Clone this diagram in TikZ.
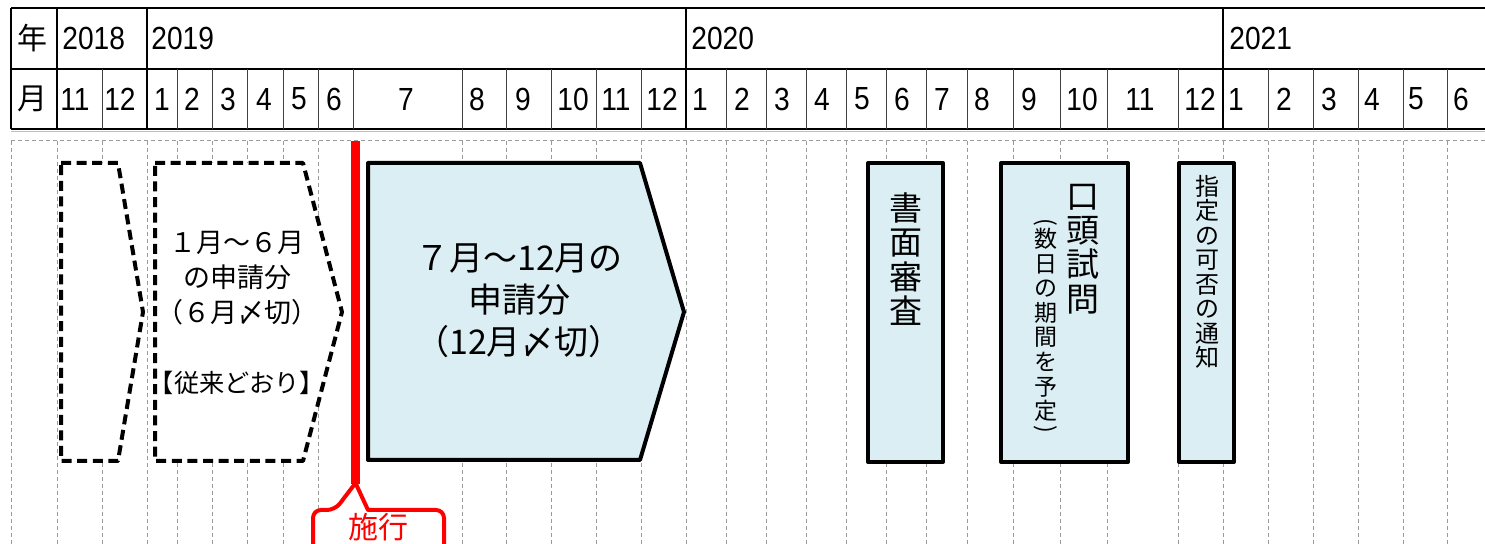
\documentclass[tikz,border=0pt]{standalone}
\usepackage{fontspec}
\setmainfont{Liberation Sans}
\newfontfamily\numfont[FakeStretch=0.88]{Liberation Sans}
\newfontfamily\jp{Noto Sans CJK JP}
\definecolor{lblue}{HTML}{DAEEF3}
\definecolor{gridgray}{HTML}{9A9A9A}
\definecolor{callred}{HTML}{FF0000}
\begin{document}
\begin{tikzpicture}[x=0.5pt,y=-0.5pt,
  tbl/.style={black,line width=0.8pt},
  tblthin/.style={black!75,line width=0.5pt},
  griddash/.style={gridgray,line width=0.5pt,dash pattern=on 2pt off 1.5pt},
  oldbox/.style={draw=black,fill=white,line width=2pt,dash pattern=on 5pt off 2.8pt,line join=round},
  newbox/.style={draw=black,fill=lblue,line width=2pt,line join=round},
  numlbl/.style={inner sep=0pt,font=\numfont\fontsize{16}{18}\selectfont},
  jphdr/.style={inner sep=0pt,font=\jp\fontsize{15}{18}\selectfont},
  stacklbl/.style={inner sep=0pt,align=center},
]
\clip (0,0) rectangle (1485,544);
\fill[white] (0,0) rectangle (1485,544);

% ---------- header table ----------
\draw[tbl] (11,8) -- (1490,8);
\draw[tbl] (11,69) -- (1490,69);
\draw[black,line width=1pt] (11,129) -- (1490,129);
\draw[black!25,line width=0.6pt] (11,131.5) -- (1490,131.5);
\draw[tbl] (11,8) -- (11,129);
\foreach \x in {57,147,686,1223}
  \draw[tbl] (\x,8) -- (\x,129);
\foreach \x in {102,177,212,247,283,318,353,462,506,551,596,641,726,766,806,846,886,926,967,1013,1060,1107,1178,1268,1313,1358,1403,1447}
  \draw[tblthin] (\x,69) -- (\x,129);

\node[jphdr] (nen) at (33,38) {年};
\node[jphdr] (tsuki) at (33,99) {月};
\node[numlbl,anchor=west] (y2018) at (62,38) {2018};
\node[numlbl,anchor=west] (y2019) at (151,38) {2019};
\node[numlbl,anchor=west] (y2020) at (691,38) {2020};
\node[numlbl,anchor=west] (y2021) at (1229,38) {2021};

\foreach \x/\m [count=\i] in {75/11,120/12,162/1,192/2,228/3,264/4,299/5,334/6,406/7,477/8,523/9,573/10,616/11,662/12,700/1,742/2,782/3,822/4,862/5,902/6,942/7,982/8,1029/9,1082/10,1140/11,1200/12,1236/1,1284/2,1329/3,1372/4,1416/5,1461/6}
  \node[numlbl] (m\i) at (\x,99) {\m};

% ---------- dashed month grid ----------
\draw[griddash] (11,141) -- (1490,141);
\foreach \x in {11,57,102,147,177,212,247,283,318,353,462,506,551,596,641,686,726,766,806,846,886,926,967,1013,1060,1107,1178,1223,1268,1313,1358,1403,1447}
  \draw[griddash] (\x,141) -- (\x,544);

% ---------- former applications (dashed) ----------
\draw[oldbox] (61,163) -- (118,163) -- (143,312) -- (118,461) -- (61,461) -- cycle;
\draw[oldbox] (155,163) -- (303,163) -- (342,312) -- (303,461) -- (155,461) -- cycle;
\node[stacklbl,font=\jp\fontsize{13.5}{17.5}\selectfont] (oldtxt) at (237,313)
  {１月～６月\\の申請分\\（６月〆切）\\\mbox{}\\{\fontsize{12.6}{17.5}\selectfont【従来どおり】}};

% ---------- new applications ----------
\draw[newbox] (368,163) -- (640,163) -- (684,312) -- (640,460) -- (368,460) -- cycle;
\node[stacklbl,font=\jp\fontsize{17}{21}\selectfont] (newtxt) at (519,301)
  {７月～12月の\\申請分\\（12月〆切）};

% ---------- later steps ----------
\draw[newbox] (868,163) rectangle (943,462);
\node[stacklbl,font=\jp\fontsize{16.5}{17.2}\selectfont] (shomen) at (906,259)
  {書\\面\\審\\査};

\draw[newbox] (1001,163) rectangle (1128,462);
\node[stacklbl,font=\jp\fontsize{16.5}{17.2}\selectfont] (koto) at (1083,249)
  {口\\頭\\試\\問};
\node[inner sep=0pt,font=\jp\fontsize{11.5}{12}\selectfont] (parL) at (1046,222) {\rotatebox{-90}{(}};
\node[stacklbl,font=\jp\fontsize{11.5}{12.3}\selectfont] (kikan) at (1046,325)
  {数\\日\\の\\期\\間\\を\\予\\定};
\node[inner sep=0pt,font=\jp\fontsize{11.5}{12}\selectfont] (parR) at (1046,429) {\rotatebox{-90}{)}};

\draw[newbox] (1179,163) rectangle (1234,462);
\node[stacklbl,font=\jp\fontsize{12}{12.25}\selectfont] (tsuchi) at (1207,272)
  {指\\定\\の\\可\\否\\の\\通\\知};

% ---------- enforcement line ----------
\draw[callred,line width=4.5pt] (355.5,141) -- (355.5,484);
\draw[callred,line width=2pt,fill=white,line join=round]
  (313,570) [rounded corners=4pt] -- (313,510) -- (335,510) [sharp corners] -- (355.5,483) -- (368,510) [rounded corners=4pt] -- (444,510) -- (444,570);
\node[inner sep=0pt,text=callred,font=\jp\fontsize{15}{18}\selectfont] (shiko) at (378,527.5) {施行};
\end{tikzpicture}
\end{document}
